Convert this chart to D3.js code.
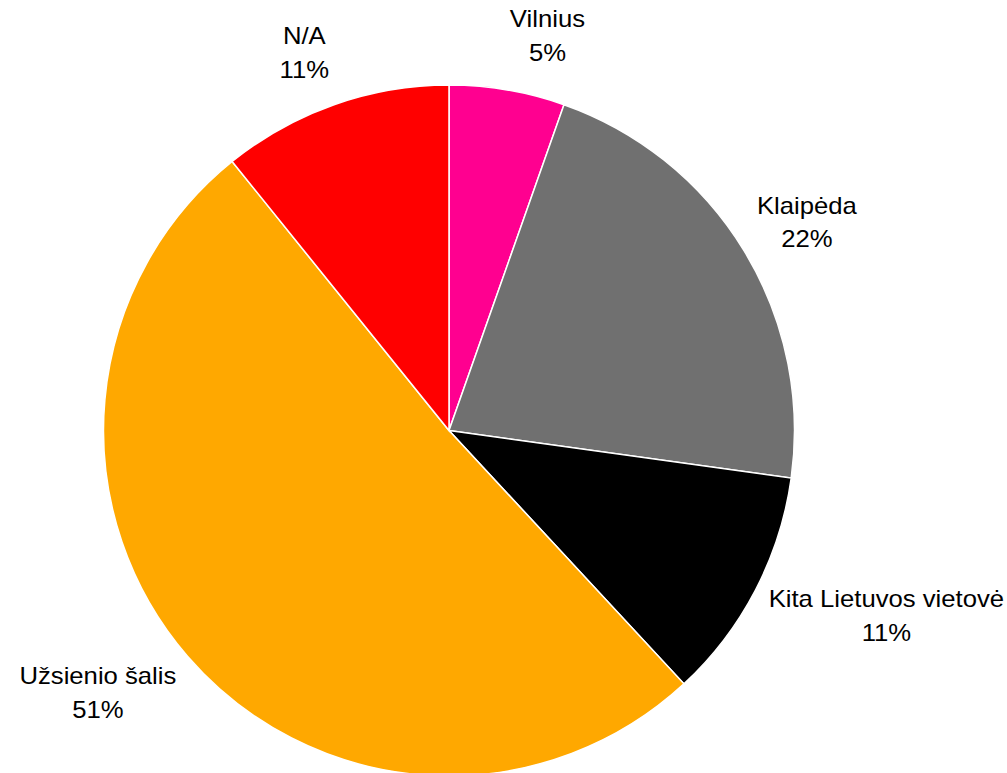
<!DOCTYPE html>
<html>
<head>
<meta charset="utf-8">
<script src="https://cdn.jsdelivr.net/npm/d3@7"></script>
<style>
  body { margin: 0; background: #fff; }
  text { font-family: "Liberation Sans", Arial, sans-serif; }
</style>
</head>
<body>
<div id="chart"></div>
<script>
const categories = ["Vilnius", "Klaipėda", "Kita Lietuvos vietovė", "Užsienio šalis", "N/A"];
const values = [5.4, 21.8, 10.9, 51.1, 10.8];
const colors = ["#ff0090", "#707070", "#000000", "#ffa800", "#ff0000"];

const width = 1007, height = 773;
const cx = 449, cy = 430.5, radius = 345.5;
const fontSize = 24, lineGap = 34, stretchX = 1.07;

const data = categories.map((c, i) => ({ name: c, value: values[i], color: colors[i] }));
const total = d3.sum(values);

const svg = d3.select("#chart").append("svg")
  .attr("width", width)
  .attr("height", height);

const g = svg.append("g").attr("transform", `translate(${cx},${cy})`);

const pie = d3.pie().value((d) => d.value).sort(null);
const arc = d3.arc().innerRadius(0).outerRadius(radius);
const arcs = pie(data);

g.selectAll(".slice")
  .data(arcs)
  .enter()
  .append("path")
  .attr("class", "slice")
  .attr("d", arc)
  .attr("fill", (d) => d.data.color)
  .attr("stroke", "#fff")
  .attr("stroke-width", 1.5);

// labels outside the pie, box pushed away from the mid angle
const labels = g.selectAll(".label")
  .data(arcs)
  .enter()
  .append("g")
  .attr("class", "label")
  .append("text")
  .attr("text-anchor", "middle")
  .attr("font-size", fontSize)
  .attr("fill", "#000")
  .attr("transform", `scale(${stretchX},1)`);

labels.append("tspan").attr("x", 0).attr("dy", 0).text((d) => d.data.name);
labels.append("tspan").attr("x", 0).attr("dy", lineGap)
  .text((d) => Math.round((d.data.value / total) * 100) + "%");

labels.each(function (d) {
  const bb = this.getBBox();
  const w = bb.width * stretchX, h = bb.height;
  const mid = (d.startAngle + d.endAngle) / 2;
  const ux = Math.sin(mid), uy = -Math.cos(mid);
  const px = ux * (radius + 15) + Math.sign(ux) * w / 2;
  const py = uy * (radius + 25) + uy * h / 2;
  const dx = px - (bb.x + bb.width / 2) * stretchX;
  const dy = py - (bb.y + bb.height / 2);
  d3.select(this.parentNode).attr("transform", `translate(${dx},${dy})`);
});
</script>
</body>
</html>
